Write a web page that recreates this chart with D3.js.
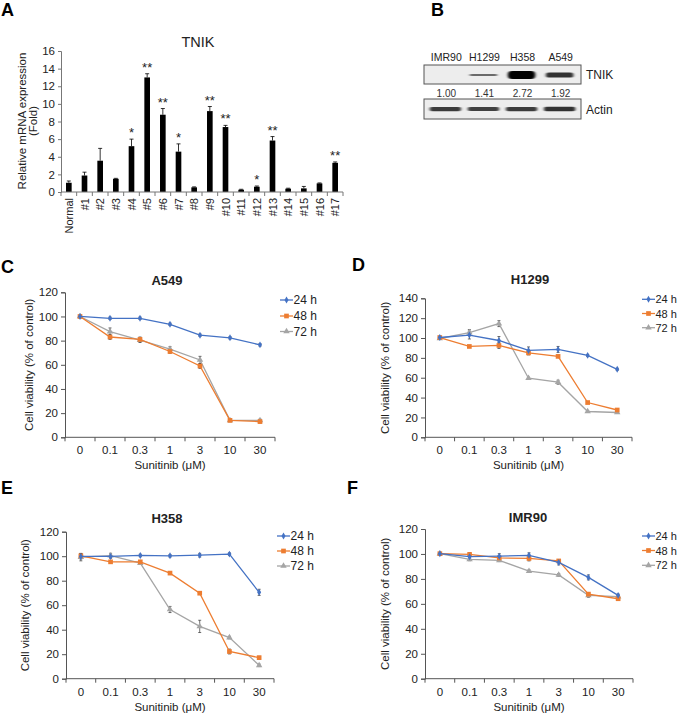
<!DOCTYPE html>
<html><head><meta charset="utf-8">
<script src="https://cdn.jsdelivr.net/npm/d3@7"></script>
<style>body{margin:0;background:#fff}svg{display:block;font-family:"Liberation Sans",Arial,sans-serif}</style>
</head><body><div id="chart"></div>
<script>
// ---------- DATA ----------
const barCats = ["Normal","#1","#2","#3","#4","#5","#6","#7","#8","#9","#10","#11","#12","#13","#14","#15","#16","#17"];
const barVals = [1.05,1.87,3.55,1.5,5.2,13.0,8.77,4.58,0.53,9.18,7.37,0.26,0.6,5.84,0.38,0.41,0.98,3.31];
const barErr  = [0.2,0.38,1.4,0.05,0.8,0.42,0.7,0.88,0.05,0.52,0.19,0.05,0.08,0.45,0.05,0.22,0.05,0.1];
const barSig  = ["","","","","*","**","**","*","","**","**","","*","**","","","","**"];
const barTicks = [0,2,4,6,8,10,12,14,16];

const blotLanes = ["IMR90","H1299","H358","A549"];
const blotQuant = ["1.00","1.41","2.72","1.92"];
const tnikBand  = [0.0,0.15,1.0,0.6];
const actinBand = [0.75,0.7,0.75,0.85];

const conc = ["0","0.1","0.3","1","3","10","30"];
const seriesNames = ["24 h","48 h","72 h"];
const seriesColors = ["#4472C4","#ED7D31","#A5A5A5"];

const a549_24 = [100,98.5,98.5,93.5,84.5,82.3,76.5];
const a549_48 = [100,83,81,71,59,14,13];
const a549_72 = [100,87.5,80.5,73,64,14,14];
const a549_e24 = [1,1,1,1,1,1,1];
const a549_e48 = [0,2,2,1.5,2,1,1];
const a549_e72 = [0,3,2,2,3,1,1];

const h1299_24 = [100.5,103,97.5,87.5,88.5,82.5,68.5];
const h1299_48 = [100.5,91.5,92.5,85,81.5,35,27.5];
const h1299_72 = [99.5,105.5,114.5,59.5,55.5,26,25];
const h1299_e24 = [1,4,4,3.5,3,1,1];
const h1299_e48 = [1,1,3,2,1,1,1.5];
const h1299_e72 = [1,3,3,1,2,1,1];

const h358_24 = [99.8,99.8,100.6,100.3,100.8,101.7,70.5];
const h358_48 = [100.3,95.4,95.4,86.2,69.8,22.2,17.2];
const h358_72 = [99.2,100.4,94.4,56.5,42.7,33.6,10.9];
const h358_e24 = [2,1,1,1,1.5,1,2.5];
const h358_e48 = [2,1,1,1,1,2,1];
const h358_e72 = [3,2,1,2.5,5,1,1];

const imr90_24 = [100.2,97.8,98.2,98.9,93.2,81.2,66.8];
const imr90_48 = [100.2,99.6,96.8,96.4,94.4,67.8,64.1];
const imr90_72 = [100.2,95.6,94.9,86.2,83.2,66.8,65.8];
const imr90_e24 = [1,2,2,2,2,2,1];
const imr90_e48 = [1,1.5,1,2,1,1,1];
const imr90_e72 = [1,1,1,1,1,1.5,1];

// ---------- DRAW ----------
const W = 679, H = 714;
const svg = d3.select("#chart").append("svg").attr("width", W).attr("height", H);
const FONT = "'Liberation Sans', Arial, sans-serif";

function letter(t, x, y) {
  svg.append("text").attr("x", x).attr("y", y).text(t)
    .attr("font-size", 18).attr("font-weight", "bold").attr("fill", "#000");
}
letter("A", 1, 16); letter("B", 431, 16); letter("C", 1, 273); letter("D", 352, 271); letter("E", 1, 494); letter("F", 347, 494);

// ----- Panel A: bar chart -----
(function () {
  const left = 61, right = 343, top = 51, bottom = 192;
  const x = d3.scaleBand().domain(barCats).range([left, right]).paddingInner(0.64).paddingOuter(0.32);
  const y = d3.scaleLinear().domain([0, 16]).range([bottom, top]);
  const g = svg.append("g");
  g.selectAll(".bar").data(barCats).join("rect")
    .attr("x", d => x(d)).attr("width", x.bandwidth())
    .attr("y", (d, i) => y(barVals[i])).attr("height", (d, i) => y(0) - y(barVals[i]))
    .attr("fill", "#000");
  barCats.forEach((c, i) => {
    const cx = x(c) + x.bandwidth() / 2, yt = y(barVals[i] + barErr[i]);
    g.append("line").attr("x1", cx).attr("x2", cx).attr("y1", y(barVals[i])).attr("y2", yt).attr("stroke", "#000").attr("stroke-width", 0.8);
    g.append("line").attr("x1", cx - 2).attr("x2", cx + 2).attr("y1", yt).attr("y2", yt).attr("stroke", "#000").attr("stroke-width", 0.8);
    if (barSig[i]) g.append("text").attr("x", cx).attr("y", yt - 2).attr("text-anchor", "middle")
      .attr("font-size", 13).attr("fill", "#222").text(barSig[i]);
  });
  const ya = d3.axisLeft(y).tickValues(barTicks).tickSize(3).tickPadding(3);
  const yg = g.append("g").attr("transform", `translate(${left},0)`).call(ya);
  yg.selectAll("text").attr("font-size", 11.5).attr("font-family", FONT).attr("fill", "#222");
  yg.selectAll("line,path").attr("stroke", "#777");
  g.append("line").attr("x1", left).attr("x2", right).attr("y1", bottom).attr("y2", bottom).attr("stroke", "#777");
  d3.range(barCats.length + 1).forEach(k => {
    const xx = left + k * (right - left) / barCats.length;
    g.append("line").attr("x1", xx).attr("x2", xx).attr("y1", bottom).attr("y2", bottom + 4).attr("stroke", "#777");
  });
  barCats.forEach(c => {
    const cx = x(c) + x.bandwidth() / 2;
    g.append("text").attr("transform", `translate(${cx + 4},${198}) rotate(-90)`)
      .attr("text-anchor", "end").attr("font-size", 11).attr("fill", "#222").text(c);
  });
  g.append("text").attr("x", 198).attr("y", 47).attr("text-anchor", "middle").attr("font-size", 14.5).attr("fill", "#222").text("TNIK");
  g.append("text").attr("transform", "translate(26,121) rotate(-90)").attr("text-anchor", "middle").attr("font-size", 11.5).attr("fill", "#222").text("Relative mRNA expression");
  g.append("text").attr("transform", "translate(37,121) rotate(-90)").attr("text-anchor", "middle").attr("font-size", 11.5).attr("fill", "#222").text("(Fold)");
})();

// ----- Panel B: western blot -----
(function () {
  const defs = svg.append("defs");
  defs.append("filter").attr("id", "blur").attr("x", "-30%").attr("y", "-150%").attr("width", "160%").attr("height", "400%")
    .append("feGaussianBlur").attr("stdDeviation", "1.4 0.7");
  const bl = 424, br = 581;
  const x = d3.scaleBand().domain(blotLanes).range([bl, br]).padding(0.12);
  const g = svg.append("g");
  blotLanes.forEach(l => g.append("text").attr("x", x(l) + x.bandwidth() / 2 + 1).attr("y", 61).attr("text-anchor", "middle")
    .attr("font-size", 10.5).attr("fill", "#222").text(l));
  g.append("rect").attr("x", bl).attr("y", 65).attr("width", br - bl).attr("height", 19).attr("fill", "#ededed").attr("stroke", "#555").attr("stroke-width", 1);
  blotLanes.forEach((l, i) => {
    if (tnikBand[i] <= 0) return;
    const h = 1 + tnikBand[i] * 7;
    g.append("rect").attr("x", x(l) + 3).attr("width", x.bandwidth() - 6).attr("y", 75 - h / 2).attr("height", h)
      .attr("rx", h / 2).attr("fill", d3.interpolateGreys(0.6 + tnikBand[i] * 0.4)).attr("filter", "url(#blur)");
  });
  g.append("text").attr("x", 586).attr("y", 79).attr("font-size", 12).attr("fill", "#222").text("TNIK");
  blotLanes.forEach((l, i) => g.append("text").attr("x", x(l) + x.bandwidth() / 2 + 1).attr("y", 97).attr("text-anchor", "middle")
    .attr("font-size", 10).attr("fill", "#333").text(blotQuant[i]));
  g.append("rect").attr("x", bl).attr("y", 99).attr("width", br - bl).attr("height", 20).attr("fill", "#ededed").attr("stroke", "#555").attr("stroke-width", 1);
  blotLanes.forEach((l, i) => {
    const h = 2 + actinBand[i] * 3;
    g.append("rect").attr("x", x(l) + 1).attr("width", x.bandwidth() - 2).attr("y", 109 - h / 2).attr("height", h)
      .attr("rx", h / 2).attr("fill", d3.interpolateGreys(0.55 + actinBand[i] * 0.35)).attr("filter", "url(#blur)");
  });
  g.append("text").attr("x", 586).attr("y", 114).attr("font-size", 12).attr("fill", "#222").text("Actin");
})();

// ----- Line panels -----
const markerSyms = [d3.symbolDiamond, d3.symbolSquare, d3.symbolTriangle];
const markerSizes = [14, 22, 18];

function linePanel(o) {
  const g = svg.append("g");
  const x = d3.scalePoint().domain(conc).range([o.left, o.right]).padding(0.5);
  const y = d3.scaleLinear().domain([0, o.ymax]).range([o.bottom, o.top]);
  const ya = d3.axisLeft(y).ticks(o.ymax / 20).tickSize(4).tickPadding(3);
  const yg = g.append("g").attr("transform", `translate(${o.left},0)`).call(ya);
  yg.selectAll("text").attr("font-size", 11.5).attr("font-family", FONT).attr("fill", "#222");
  yg.selectAll("line,path").attr("stroke", "#555");
  g.append("line").attr("x1", o.left).attr("x2", o.right).attr("y1", o.bottom).attr("y2", o.bottom).attr("stroke", "#555");
  d3.range(conc.length + 1).forEach(k => {
    const xx = o.left + k * (o.right - o.left) / conc.length;
    g.append("line").attr("x1", xx).attr("x2", xx).attr("y1", o.bottom).attr("y2", o.bottom + 4).attr("stroke", "#555");
  });
  conc.forEach(c => g.append("text").attr("x", x(c)).attr("y", o.bottom + 17).attr("text-anchor", "middle")
    .attr("font-size", 11.5).attr("fill", "#222").text(c));
  g.append("text").attr("x", (o.left + o.right) / 2).attr("y", o.bottom + 32).attr("text-anchor", "middle")
    .attr("font-size", 11.5).attr("fill", "#222").text("Sunitinib (μM)");
  g.append("text").attr("transform", `translate(${o.ylabX},${(o.top + o.bottom) / 2}) rotate(-90)`).attr("text-anchor", "middle")
    .attr("font-size", 11.5).attr("fill", "#222").text("Cell viability (% of control)");
  g.append("text").attr("x", o.titleX).attr("y", o.titleY).attr("text-anchor", "middle")
    .attr("font-size", 13).attr("font-weight", "bold").attr("fill", "#222").text(o.title);
  const line = d3.line().x((d, i) => x(conc[i])).y(d => y(d));
  o.data.forEach((vals, s) => {
    const errs = o.err[s];
    vals.forEach((v, i) => {
      if (errs[i] <= 0) return;
      const cx = x(conc[i]);
      g.append("line").attr("x1", cx).attr("x2", cx).attr("y1", y(v - errs[i])).attr("y2", y(v + errs[i])).attr("stroke", "#333").attr("stroke-width", 0.7);
      [v - errs[i], v + errs[i]].forEach(e => g.append("line").attr("x1", cx - 1.5).attr("x2", cx + 1.5).attr("y1", y(e)).attr("y2", y(e)).attr("stroke", "#333").attr("stroke-width", 0.7));
    });
  });
  [2, 1, 0].forEach(s => {
    const vals = o.data[s];
    g.append("path").datum(vals).attr("d", line).attr("fill", "none").attr("stroke", seriesColors[s]).attr("stroke-width", 1.3);
    g.selectAll(null).data(vals).join("path")
      .attr("transform", (d, i) => `translate(${x(conc[i])},${y(d)})`)
      .attr("d", d3.symbol(markerSyms[s], markerSizes[s])).attr("fill", seriesColors[s]);
  });
  seriesNames.forEach((n, s) => {
    const ly = o.legY[s];
    g.append("line").attr("x1", o.legX).attr("x2", o.legX + 13).attr("y1", ly).attr("y2", ly).attr("stroke", seriesColors[s]).attr("stroke-width", 1.3);
    g.append("path").attr("transform", `translate(${o.legX + 6.5},${ly})`).attr("d", d3.symbol(markerSyms[s], markerSizes[s])).attr("fill", seriesColors[s]);
    g.append("text").attr("x", o.legX + 13.5).attr("y", ly + 4).attr("font-size", o.legFont || 12).attr("fill", "#222").text(n);
  });
}

linePanel({ title: "A549", titleX: 167, titleY: 285, left: 65, right: 275, top: 292.3, bottom: 437.3, ymax: 120, ylabX: 33,
  data: [a549_24, a549_48, a549_72], err: [a549_e24, a549_e48, a549_e72], legX: 280, legY: [300, 316, 331.5] });
linePanel({ title: "H1299", titleX: 530, titleY: 284, left: 425, right: 632, top: 298.3, bottom: 437.3, ymax: 140, ylabX: 389,
  data: [h1299_24, h1299_48, h1299_72], err: [h1299_e24, h1299_e48, h1299_e72], legX: 642, legY: [299.3, 313.5, 327.7], legFont: 11 });
linePanel({ title: "H358", titleX: 167, titleY: 523, left: 66, right: 274, top: 531.7, bottom: 678.7, ymax: 120, ylabX: 29,
  data: [h358_24, h358_48, h358_72], err: [h358_e24, h358_e48, h358_e72], legX: 277, legY: [536, 551, 566] });
linePanel({ title: "IMR90", titleX: 528, titleY: 522, left: 425, right: 633, top: 529, bottom: 678.7, ymax: 120, ylabX: 389,
  data: [imr90_24, imr90_48, imr90_72], err: [imr90_e24, imr90_e48, imr90_e72], legX: 642, legY: [536, 550.5, 565.3], legFont: 11 });
</script>
</body></html>
